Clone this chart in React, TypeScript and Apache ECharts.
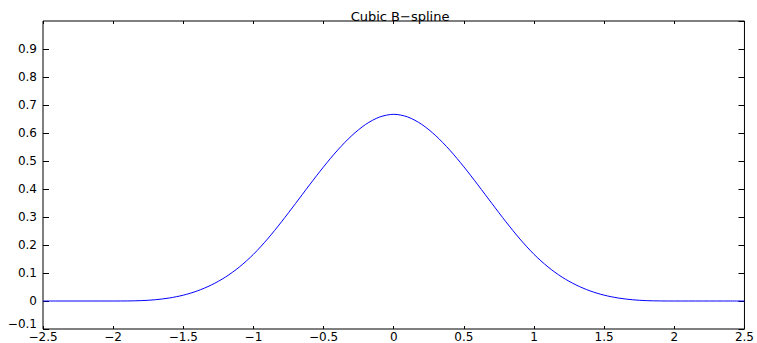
import React, { useEffect, useRef } from "react";
import * as echarts from "echarts";

// Sample positions along x and the spline values read at each position
const xs: number[] = [
  -2.5, -2.4, -2.3, -2.2, -2.1, -2.0, -1.9, -1.8, -1.7, -1.6, -1.5, -1.4, -1.3,
  -1.2, -1.1, -1.0, -0.9, -0.8, -0.7, -0.6, -0.5, -0.4, -0.3, -0.2, -0.1, 0.0,
  0.1, 0.2, 0.3, 0.4, 0.5, 0.6, 0.7, 0.8, 0.9, 1.0, 1.1, 1.2, 1.3, 1.4, 1.5,
  1.6, 1.7, 1.8, 1.9, 2.0, 2.1, 2.2, 2.3, 2.4, 2.5,
];
const ys: number[] = [
  0, 0, 0, 0, 0, 0, 0.0002, 0.0013, 0.0045, 0.0107, 0.0208, 0.036, 0.0572,
  0.0853, 0.1215, 0.1667, 0.2212, 0.2827, 0.3482, 0.4147, 0.4792, 0.5387,
  0.5902, 0.6307, 0.6572, 0.6667, 0.6572, 0.6307, 0.5902, 0.5387, 0.4792,
  0.4147, 0.3482, 0.2827, 0.2212, 0.1667, 0.1215, 0.0853, 0.0572, 0.036,
  0.0208, 0.0107, 0.0045, 0.0013, 0.0002, 0, 0, 0, 0, 0, 0,
];

const titleText = "Cubic B\u2212spline";
const xRange: [number, number, number] = [-2.5, 2.5, 0.5];
const yRange: [number, number, number] = [-0.1, 1.0, 0.1];

const fontFamily = "'DejaVu Sans', 'Liberation Sans', Arial, sans-serif";

function fmt(v: number): string {
  const r = Math.round(v * 1000) / 1000;
  if (Math.abs(r) < 1e-9) return "0";
  const s = String(Math.abs(r));
  return (r < 0 ? "\u2212" : "") + s;
}

export default function App() {
  const ref = useRef<HTMLDivElement>(null);

  useEffect(() => {
    if (!ref.current) return;
    const chart = echarts.init(ref.current, null, { renderer: "svg" });
    const axisLine = { show: false, onZero: false };
    const labelStyle = { color: "#000", fontSize: 12, lineHeight: 10, fontFamily };
    const xTick = { show: true, inside: true, length: 3, lineStyle: { color: "#000" } };
    const yTick = { show: true, inside: true, length: 6, lineStyle: { color: "#000" } };
    chart.setOption({
      animation: false,
      backgroundColor: "#fff",
      title: {
        text: titleText,
        left: 395,
        top: 5,
        textAlign: "center",
        textStyle: { color: "#000", fontSize: 13, fontWeight: "normal", fontFamily },
      },
      grid: {
        left: 43,
        top: 21,
        right: 10,
        bottom: 12,
        show: true,
        borderColor: "#000",
        borderWidth: 1,
        backgroundColor: "transparent",
      },
      xAxis: [
        {
          type: "value",
          position: "bottom",
          min: xRange[0],
          max: xRange[1],
          interval: xRange[2],
          axisLine,
          axisTick: xTick,
          splitLine: { show: false },
          axisLabel: { ...labelStyle, margin: 3, formatter: (v: number) => fmt(v) },
        },
        {
          type: "value",
          position: "top",
          min: xRange[0],
          max: xRange[1],
          interval: xRange[2],
          axisLine,
          axisTick: xTick,
          splitLine: { show: false },
          axisLabel: { show: false },
        },
      ],
      yAxis: [
        {
          type: "value",
          position: "left",
          min: yRange[0],
          max: yRange[1],
          interval: yRange[2],
          axisLine,
          axisTick: yTick,
          splitLine: { show: false },
          axisLabel: {
            ...labelStyle,
            margin: 6,
            showMaxLabel: false,
            // keep the lowest label clear of the "−2.5" label in the corner
            verticalAlignMinLabel: "bottom",
            formatter: (v: number) => fmt(v),
          },
        },
        {
          type: "value",
          position: "right",
          min: yRange[0],
          max: yRange[1],
          interval: yRange[2],
          axisLine,
          axisTick: yTick,
          splitLine: { show: false },
          axisLabel: { show: false },
        },
      ],
      series: [
        {
          type: "line",
          xAxisIndex: 0,
          yAxisIndex: 0,
          data: xs.map((x, i) => [x, ys[i]]),
          smooth: 0.3,
          showSymbol: false,
          lineStyle: { color: "#0000ff", width: 1 },
          itemStyle: { color: "#0000ff" },
        },
      ],
    });
    return () => chart.dispose();
  }, []);

  return (
    <div
      ref={ref}
      style={{ position: "fixed", left: 0, top: 0, width: 757, height: 343 }}
    />
  );
}
